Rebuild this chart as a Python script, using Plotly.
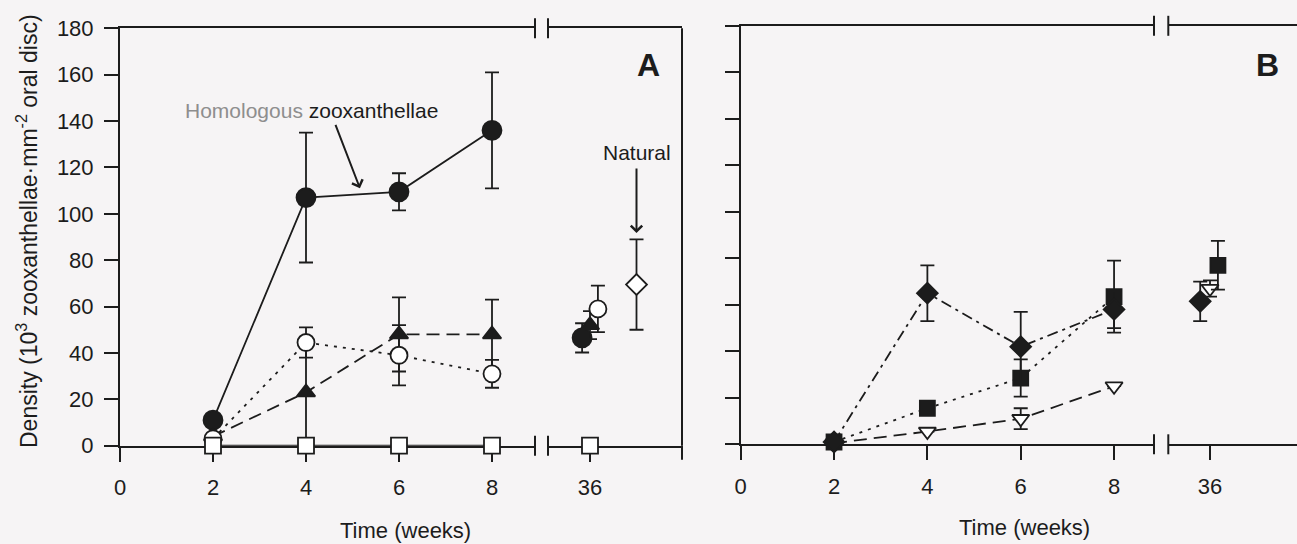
import plotly.graph_objects as go

W, H = 1297, 544

# ---------------- data ----------------
weeks = [2, 4, 6, 8]
week_late = 36
tick_early = [0, 2, 4, 6, 8]
tick_late = [36]
y_ticks = list(range(0, 181, 20))

# Panel A
a_homol_mean = [11, 107, 109.5, 136]
a_homol_err = [0, 28, 8, 25]
a_homol_late, a_homol_late_err = 46.5, 6.3

a_ocirc_mean = [3, 44.5, 39, 31]
a_ocirc_err = [0, 6.5, 13, 6]
a_ocirc_late, a_ocirc_late_err = 59, 10

a_tri_mean = [4, 23, 48, 48]
a_tri_err = [0, 23, 16, 15]
a_tri_late, a_tri_late_err = 52, 6

a_osq_mean = [0, 0, 0, 0]
a_osq_late = 0

natural_week = 37
natural_mean, natural_err = 69.5, 19.5

# Panel B
b_dia_mean = [1, 65, 42, 58]
b_dia_err = [0, 12, 15, 8]
b_dia_late, b_dia_late_err = 61.5, 8.5

b_sq_mean = [1, 15.5, 28.5, 63.5]
b_sq_err = [0, 0, 8, 15.5]
b_sq_late, b_sq_late_err = 77, 10.5

b_otri_mean = [0.5, 5.5, 11, 25]
b_otri_err = [0, 0, 4.5, 0]
b_otri_late, b_otri_late_err = 67, 3.5

# ---------------- style / geometry ----------------
INK = "#1c1c1c"
BG = "#f6f4f5"
FONT = "Liberation Sans, Arial, Helvetica, sans-serif"
late_shift = 0.17  # horizontal offset of overlapping week-36 symbols

def px(x):
    return x / W

def py(y):
    return 1 - y / H

# panel pixel geometry
A = dict(x0=120.0, scale=46.5, bl=535.0, br=548.0, right=682.0, late=590.0, y0=445.7, ytop=28.3)
B = dict(x0=740.7, scale=46.67, bl=1154.0, br=1168.3, right=1297.0, late=1210.0, y0=444.3, ytop=25.8)

def xaxis_common(anchor, tv):
    return dict(anchor=anchor, tickvals=tv, ticktext=[str(t) for t in tv],
                showline=True, linecolor=INK, linewidth=2, mirror=True,
                ticks="outside", ticklen=14, tickwidth=2, tickcolor=INK,
                showgrid=False, zeroline=False, layer="below traces",
                automargin=False,
                tickfont=dict(family=FONT, size=22, color=INK),
                ticklabelstandoff=7, fixedrange=True)

def yaxis_common(anchor, labels=True):
    return dict(anchor=anchor, range=[0, 180], tickvals=y_ticks,
                showticklabels=labels,
                showline=True, linecolor=INK, linewidth=2, mirror=False,
                ticks="outside", ticklen=14, tickwidth=2, tickcolor=INK,
                showgrid=False, zeroline=False, layer="below traces",
                automargin=False,
                tickfont=dict(family=FONT, size=22, color=INK),
                ticklabelstandoff=6, fixedrange=True)

fig = go.Figure()

def err(arr):
    return dict(type="data", array=arr, visible=True, color=INK, thickness=1.8, width=7)

def series(x, y, e, xa, ya, symbol, size, filled, dash, mode="lines+markers"):
    fig.add_trace(go.Scatter(
        x=x, y=y, xaxis=xa, yaxis=ya, mode=mode, cliponaxis=False,
        line=dict(color=INK, width=1.8, dash=dash),
        marker=dict(symbol=symbol, size=size,
                    color=INK if filled else "white",
                    line=dict(color=INK, width=1.8)),
        error_y=err(e), showlegend=False, hoverinfo="skip"))

# ---- Panel A, weeks 2-8 ----
series(weeks, a_homol_mean, a_homol_err, "x", "y", "circle", 19, True, "solid")
series(weeks, a_tri_mean, a_tri_err, "x", "y", "triangle-up", 16, True, "13px,7px")
series(weeks, a_ocirc_mean, a_ocirc_err, "x", "y", "circle", 17, False, "3px,6px")
series(weeks, a_osq_mean, [0, 0, 0, 0], "x", "y", "square", 16, False, "solid")
# ---- Panel A, week 36 ----
series([week_late - late_shift], [a_homol_late], [a_homol_late_err], "x2", "y", "circle", 19, True, "solid", "markers")
series([week_late], [a_tri_late], [a_tri_late_err], "x2", "y", "triangle-up", 16, True, "solid", "markers")
series([week_late + late_shift], [a_ocirc_late], [a_ocirc_late_err], "x2", "y", "circle", 17, False, "solid", "markers")
series([week_late], [a_osq_late], [0], "x2", "y", "square", 16, False, "solid", "markers")
series([natural_week], [natural_mean], [natural_err], "x2", "y", "diamond", 16, False, "solid", "markers")

# ---- Panel B, weeks 2-8 ----
series(weeks, b_otri_mean, b_otri_err, "x3", "y2", "triangle-down", 15, False, "13px,7px")
series(weeks, b_sq_mean, b_sq_err, "x3", "y2", "square", 15, True, "3px,6px")
series(weeks, b_dia_mean, b_dia_err, "x3", "y2", "diamond", 16, True, "11px,5px,3px,5px")
# ---- Panel B, week 36 ----
series([week_late - late_shift - 0.04], [b_dia_late], [b_dia_late_err], "x4", "y2", "diamond", 16, True, "solid", "markers")
series([week_late], [b_otri_late], [b_otri_late_err], "x4", "y2", "triangle-down", 15, False, "solid", "markers")
series([week_late + late_shift], [b_sq_late], [b_sq_late_err], "x4", "y2", "square", 15, True, "solid", "markers")

# ---------------- axes ----------------
def early_range(g):
    return [0, (g["bl"] - g["x0"]) / g["scale"]]

def late_range(g):
    return [week_late - (g["late"] - g["br"]) / g["scale"], week_late + (g["right"] - g["late"]) / g["scale"]]

layout = dict(
    template="none",
    width=W, height=H, paper_bgcolor=BG, plot_bgcolor=BG,
    margin=dict(l=0, r=0, t=0, b=0, pad=0, autoexpand=False), showlegend=False,
    font=dict(family=FONT, color=INK),
)
xa = xaxis_common("y", tick_early); xa.update(domain=[px(A["x0"]), px(A["bl"])], range=early_range(A))
xa2 = xaxis_common("y", tick_late); xa2.update(domain=[px(A["br"]), px(A["right"])], range=late_range(A))
xa3 = xaxis_common("y2", tick_early); xa3.update(domain=[px(B["x0"]), px(B["bl"])], range=early_range(B))
xa4 = xaxis_common("y2", tick_late); xa4.update(domain=[px(B["br"]), min(1.0, px(B["right"]))], range=late_range(B))
ya = yaxis_common("x", True); ya.update(domain=[py(A["y0"]), py(A["ytop"])])
ya2 = yaxis_common("x3", False); ya2.update(domain=[py(B["y0"]), py(B["ytop"])])
layout.update(xaxis=xa, xaxis2=xa2, xaxis3=xa3, xaxis4=xa4, yaxis=ya, yaxis2=ya2)
fig.update_layout(**layout)

# ---------------- axis-break marks and frame ----------------
shapes = []
def bar(xref, xv, yref, yv, lo=-10, hi=10):
    shapes.append(dict(type="line", xref=xref, x0=xv, x1=xv, yref=yref,
                       ysizemode="pixel", yanchor=yv, y0=lo, y1=hi,
                       line=dict(color=INK, width=2)))

for (xl, xr, yr) in [("x domain", "x2 domain", "y domain"), ("x3 domain", "x4 domain", "y2 domain")]:
    for yv in (0, 1):
        bar(xl, 1, yr, yv)
        bar(xr, 0, yr, yv)

# right frame of panel A with its bottom tick
shapes.append(dict(type="line", xref="x2 domain", x0=1, x1=1, yref="y domain", y0=0, y1=1,
                   line=dict(color=INK, width=2)))
bar("x2 domain", 1, "y domain", 0, -14, 0)
fig.update_layout(shapes=shapes)

# ---------------- text ----------------
def note(**kw):
    base = dict(showarrow=False, xanchor="center", yanchor="middle")
    base.update(kw)
    return base

ann = []
ann.append(note(xref="x", yref="y", x=(311.5 - A["x0"]) / A["scale"], y=(A["y0"] - 110) / ((A["y0"] - A["ytop"]) / 180),
                text="<span style='color:#8e8e8e'>Homologous</span> zooxanthellae",
                font=dict(size=21, family=FONT, color=INK)))
ann.append(dict(xref="x", yref="y", x=5.16, y=111, ax=-25, ay=-65, text="",
                showarrow=True, arrowhead=4, arrowsize=1.1, arrowwidth=2, arrowcolor=INK))
ann.append(note(xref="x2", yref="y", x=natural_week, y=126.6, text="Natural",
                font=dict(size=21, family=FONT, color=INK)))
ann.append(dict(xref="x2", yref="y", x=natural_week, y=91.7, ax=0, ay=-66, text="",
                showarrow=True, arrowhead=4, arrowsize=1.1, arrowwidth=2, arrowcolor=INK))
ann.append(note(xref="paper", yref="paper", x=px(648), y=py(65), text="<b>A</b>",
                font=dict(size=32, family=FONT, color=INK)))
ann.append(note(xref="paper", yref="paper", x=px(1267), y=py(65), text="<b>B</b>",
                font=dict(size=32, family=FONT, color=INK)))
ann.append(note(xref="paper", yref="paper", x=px(27), y=py(231), textangle=-90,
                text="Density (10<sup>3</sup> zooxanthellae·mm<sup>-2</sup> oral disc)",
                font=dict(size=23, family=FONT, color=INK)))
ann.append(note(xref="paper", yref="paper", x=px(405), y=py(530), text="Time (weeks)",
                font=dict(size=22, family=FONT, color=INK)))
ann.append(note(xref="paper", yref="paper", x=px(1024), y=py(527), text="Time (weeks)",
                font=dict(size=22, family=FONT, color=INK)))
fig.update_layout(annotations=ann)

fig.write_html("out.html", config={"displayModeBar": False},
               post_script="document.body.style.margin='0px';document.body.style.overflow='hidden';")
